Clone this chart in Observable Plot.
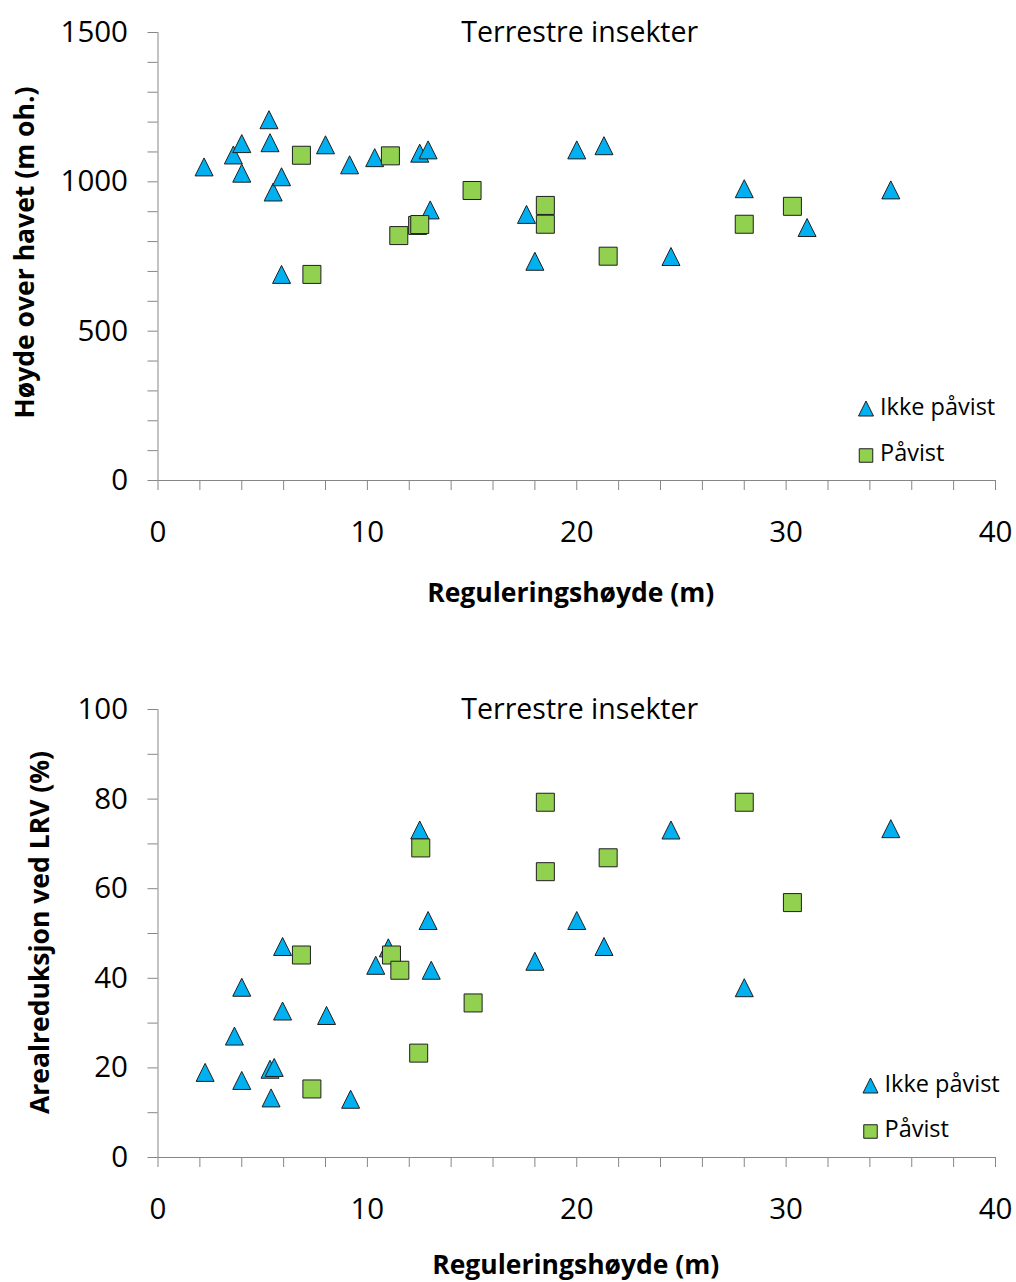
<!DOCTYPE html>
<html>
<head>
<meta charset="utf-8">
<script src="https://cdn.jsdelivr.net/npm/d3@7"></script>
<script src="https://cdn.jsdelivr.net/npm/@observablehq/plot@0.6"></script>
<style>
  body { margin: 0; background: #fff; }
  #charts svg { display: block; }
</style>
</head>
<body>
<div id="charts"></div>
<script>
// Terrestre insekter: reguleringshøyde mot høyde over havet / arealreduksjon

// Øverste figur: høyde over havet (m oh.)
const hoydeIkkeX = [2.2, 3.6, 4.0, 4.0, 5.3, 5.35, 5.5, 5.9, 5.9, 8.0, 9.15, 10.35, 12.5, 12.9, 13.0, 17.6, 18.0, 20.0, 21.3, 24.5, 28.0, 31.0, 35.0];
const hoydeIkkeY = [1050, 1090, 1128, 1029, 1208, 1131, 966, 1017, 690, 1124, 1057, 1081, 1096, 1107, 906, 891, 734, 1107, 1121, 750, 977, 847, 973];
const hoydePavistX = [6.85, 7.35, 11.1, 11.5, 12.4, 12.5, 15.0, 18.5, 18.5, 21.5, 28.0, 30.3];
const hoydePavistY = [1089, 690, 1087, 820, 854, 857, 971, 921, 858, 751, 858, 918];

// Nederste figur: arealreduksjon ved LRV (%)
const arealIkkeX = [2.25, 3.65, 4.0, 4.0, 5.35, 5.55, 5.4, 5.95, 5.95, 8.05, 9.2, 10.4, 11.0, 12.5, 12.9, 13.05, 18.0, 20.0, 21.3, 24.5, 28.0, 35.0];
const arealIkkeY = [19.0, 27.1, 38.0, 17.2, 19.7, 20.1, 13.3, 47.1, 32.7, 31.7, 13.0, 42.9, 46.8, 73.1, 52.9, 41.8, 43.8, 52.9, 47.1, 73.1, 37.9, 73.4];
const arealPavistX = [6.85, 7.35, 11.15, 11.55, 12.45, 12.55, 15.05, 18.5, 18.5, 21.5, 28.0, 30.3];
const arealPavistY = [45.2, 15.3, 45.2, 41.8, 23.3, 69.1, 34.5, 79.3, 63.8, 66.9, 79.3, 56.9];

// Akser og tekster
const xTicks = d3.range(0, 41, 2);
const xTickLabels = [0, 10, 20, 30, 40];
const hoydeTicks = d3.range(0, 1501, 100);
const hoydeTickLabels = [0, 500, 1000, 1500];
const arealTicks = d3.range(0, 101, 10);
const arealTickLabels = [0, 20, 40, 60, 80, 100];
const seriesNames = ["Ikke påvist", "Påvist"];
const title = "Terrestre insekter";
const xLabel = "Reguleringshøyde (m)";
const hoydeLabel = "Høyde over havet (m oh.)";
const arealLabel = "Arealreduksjon ved LRV (%)";

const BLUE = "#00b0f0";
const GREEN = "#92d050";
const EDGE = "#1f1f1f";
const AXIS = "#868686";
const FONT = "'Open Sans', sans-serif";

// Triangle centred on its bounding box, as spreadsheet markers are
const triangle = {
  draw(ctx, size) {
    const h = Math.sqrt(size) / 2;
    ctx.moveTo(0, -h);
    ctx.lineTo(h, h);
    ctx.lineTo(-h, h);
    ctx.closePath();
  }
};
const square = {
  draw(ctx, size) {
    const h = Math.sqrt(size) / 2;
    ctx.rect(-h, -h, 2 * h, 2 * h);
  }
};
const rFor = (side) => Math.sqrt(side * side / Math.PI);

function rows(xs, ys) {
  return xs.map((x, i) => ({x, y: ys[i]}));
}

function chart(cfg) {
  return Plot.plot({
    width: 1016,
    height: cfg.height,
    marginLeft: 157.5,
    marginRight: 21,
    marginTop: cfg.marginTop,
    marginBottom: cfg.marginBottom,
    style: {fontFamily: FONT, fontSize: "29px", color: "#000", background: "#fff", overflow: "visible"},
    x: {domain: [0, 40]},
    y: {domain: cfg.yDomain},
    marks: [
      Plot.axisX({
        ticks: xTicks, tickSize: 10, tickPadding: 31, stroke: AXIS, fill: "#000",
        fontSize: 29.5, label: null,
        tickFormat: (d) => xTickLabels.includes(d) ? String(d) : ""
      }),
      Plot.axisY({
        ticks: cfg.yTicks, tickSize: 10, tickPadding: 20, stroke: AXIS, fill: "#000",
        fontSize: 29.5, label: null,
        tickFormat: (d) => cfg.yTickLabels.includes(d) ? String(d) : ""
      }),
      Plot.ruleY([cfg.yDomain[0]], {stroke: AXIS, strokeWidth: 1}),
      Plot.ruleX([0], {stroke: AXIS, strokeWidth: 1}),
      Plot.dot(rows(cfg.ikkeX, cfg.ikkeY), {
        x: "x", y: "y", symbol: triangle, r: rFor(18), fill: BLUE, stroke: EDGE, strokeWidth: 1
      }),
      Plot.dot(rows(cfg.pavistX, cfg.pavistY), {
        x: "x", y: "y", symbol: square, r: rFor(18), fill: GREEN, stroke: EDGE, strokeWidth: 1
      }),
      // tittel
      Plot.text([title], {
        frameAnchor: "top", text: (d) => d, textAnchor: "middle", lineAnchor: "middle", dx: 3, dy: 0,
        fontSize: 28.5, fill: "#000"
      }),
      // aksetitler
      Plot.text([xLabel], {
        frameAnchor: "bottom", text: (d) => d, textAnchor: "middle", lineAnchor: "middle",
        dx: cfg.xLabelDx, dy: cfg.xLabelDy, fontSize: 26.5, fontWeight: "bold", fill: "#000"
      }),
      Plot.text([cfg.yLabel], {
        frameAnchor: "left", text: (d) => d, rotate: -90, textAnchor: "middle", lineAnchor: "middle",
        dx: cfg.yLabelDx, dy: cfg.yLabelDy, fontSize: 26.5, fontWeight: "bold", fill: "#000"
      }),
      // tegnforklaring
      Plot.dot([seriesNames[0]], {
        frameAnchor: "bottom-right", dx: cfg.legDx, dy: cfg.legDy1,
        symbol: triangle, r: rFor(15), fill: BLUE, stroke: EDGE, strokeWidth: 1
      }),
      Plot.dot([seriesNames[1]], {
        frameAnchor: "bottom-right", dx: cfg.legDx, dy: cfg.legDy2,
        symbol: square, r: rFor(13.5), fill: GREEN, stroke: EDGE, strokeWidth: 1
      }),
      Plot.text([seriesNames[0]], {
        frameAnchor: "bottom-right", text: (d) => d, textAnchor: "start", lineAnchor: "middle",
        dx: cfg.legDx + 14, dy: cfg.legDy1 - 1, fontSize: 23.5, fill: "#000"
      }),
      Plot.text([seriesNames[1]], {
        frameAnchor: "bottom-right", text: (d) => d, textAnchor: "start", lineAnchor: "middle",
        dx: cfg.legDx + 14, dy: cfg.legDy2 - 2, fontSize: 23.5, fill: "#000"
      })
    ]
  });
}

const root = document.getElementById("charts");

root.append(chart({
  height: 640, marginTop: 32, marginBottom: 160,
  yDomain: [0, 1500], yTicks: hoydeTicks, yTickLabels: hoydeTickLabels,
  ikkeX: hoydeIkkeX, ikkeY: hoydeIkkeY, pavistX: hoydePavistX, pavistY: hoydePavistY,
  yLabel: hoydeLabel, yLabelDx: -132, yLabelDy: -4,
  xLabelDx: -6, xLabelDy: 113,
  legDx: -129.5, legDy1: -72, legDy2: -25
}));

root.append(chart({
  height: 642, marginTop: 69, marginBottom: 125,
  yDomain: [0, 100], yTicks: arealTicks, yTickLabels: arealTickLabels,
  ikkeX: arealIkkeX, ikkeY: arealIkkeY, pavistX: arealPavistX, pavistY: arealPavistY,
  yLabel: arealLabel, yLabelDx: -117, yLabelDy: -1,
  xLabelDx: -1, xLabelDy: 108,
  legDx: -125, legDy1: -72, legDy2: -26
}));
</script>
</body>
</html>
